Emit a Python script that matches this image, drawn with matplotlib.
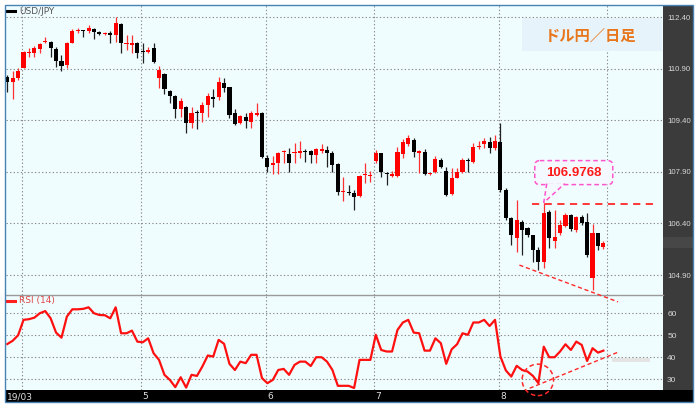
import matplotlib
matplotlib.use("Agg")
import matplotlib.pyplot as plt
import numpy as np
from matplotlib.patches import Rectangle, Ellipse, Polygon, FancyBboxPatch
from matplotlib.lines import Line2D
from matplotlib.transforms import Affine2D, blended_transform_factory

# USD/JPY daily candles
opens = [110.66, 110.51, 110.63, 110.92, 111.35, 111.35, 111.47, 111.67, 111.67, 111.47,
         111.12, 111.00, 111.64, 112.00, 112.02, 112.00, 112.05, 111.96, 111.91, 111.93,
         111.88, 112.20, 111.61, 111.59, 111.64, 111.41, 111.38, 111.50, 110.63, 110.74,
         110.25, 110.10, 109.73, 109.78, 109.32, 109.64, 109.61, 109.84, 110.07, 110.07,
         110.48, 110.36, 109.61, 109.32, 109.49, 109.35, 109.55, 109.61, 108.30, 108.10,
         108.16, 108.48, 108.42, 108.45, 108.45, 108.50, 108.50, 108.39, 108.50, 108.53,
         108.45, 108.13, 107.31, 107.31, 107.28, 107.20, 107.81, 107.78, 108.21, 108.45,
         107.86, 107.78, 107.78, 108.42, 108.71, 108.82, 108.45, 108.48, 107.83, 107.89,
         108.24, 107.92, 107.26, 107.72, 107.89, 108.24, 108.19, 108.62, 108.71, 108.77,
         108.59, 108.77, 107.37, 106.56, 105.98, 106.44, 106.27, 106.06, 105.63, 105.28,
         106.73, 105.89, 106.12, 106.32, 106.64, 106.21, 106.59, 106.44, 104.81, 106.12,
         105.71]
highs = [110.71, 110.83, 110.92, 111.41, 111.50, 111.56, 111.64, 111.82, 111.70, 111.53,
         111.30, 111.67, 112.05, 112.08, 112.02, 112.17, 112.08, 112.00, 111.96, 112.00,
         112.40, 112.23, 111.88, 111.88, 111.67, 111.64, 111.53, 111.64, 110.98, 110.77,
         110.28, 110.13, 110.04, 109.81, 109.78, 109.70, 109.93, 110.19, 110.31, 110.66,
         110.63, 110.36, 109.73, 109.55, 109.61, 109.67, 109.90, 109.64, 108.39, 108.36,
         108.48, 108.53, 108.59, 108.74, 108.79, 108.56, 108.53, 108.59, 108.71, 108.65,
         108.50, 108.16, 107.75, 107.52, 107.37, 107.81, 108.16, 107.92, 108.53, 108.45,
         107.89, 107.92, 108.62, 108.85, 108.97, 108.88, 108.53, 108.56, 107.86, 108.36,
         108.30, 108.04, 108.01, 108.01, 108.30, 108.30, 108.74, 108.79, 108.88, 108.91,
         108.97, 109.32, 107.43, 106.59, 107.08, 106.50, 106.30, 106.06, 105.71, 106.98,
         106.79, 106.79, 106.50, 106.70, 106.67, 106.62, 106.64, 106.70, 106.38, 106.12,
         105.89]
lows = [110.22, 110.02, 110.57, 110.92, 111.24, 111.24, 111.35, 111.64, 111.24, 110.95,
        110.83, 110.92, 111.64, 111.93, 111.82, 111.93, 111.76, 111.88, 111.88, 111.64,
        111.67, 111.35, 111.44, 111.35, 111.21, 111.06, 111.35, 111.06, 110.34, 110.16,
        109.90, 109.46, 109.49, 109.03, 109.17, 109.14, 109.35, 109.49, 109.78, 109.99,
        110.22, 109.46, 109.26, 109.29, 109.17, 109.17, 109.52, 108.30, 107.89, 107.83,
        107.83, 108.16, 107.89, 108.16, 108.30, 108.19, 108.16, 108.16, 108.45, 108.04,
        107.89, 107.23, 107.05, 107.23, 106.79, 107.17, 107.57, 107.60, 108.16, 107.75,
        107.52, 107.75, 107.75, 108.30, 108.65, 108.33, 107.86, 107.81, 107.81, 107.86,
        108.01, 107.20, 107.23, 107.72, 107.86, 107.89, 108.16, 108.56, 108.59, 108.45,
        108.53, 107.31, 106.50, 105.77, 105.57, 105.48, 106.00, 105.28, 105.04, 105.10,
        105.68, 105.68, 106.06, 106.30, 106.18, 106.15, 106.35, 105.42, 104.46, 105.63,
        105.66]
closes = [110.51, 110.63, 110.83, 111.38, 111.38, 111.50, 111.61, 111.70, 111.50, 111.12,
          110.98, 111.64, 112.00, 112.02, 112.00, 112.08, 111.96, 111.91, 111.93, 111.88,
          112.23, 111.64, 111.64, 111.64, 111.35, 111.38, 111.44, 111.09, 110.86, 110.31,
          110.10, 109.73, 109.96, 109.32, 109.61, 109.61, 109.84, 110.10, 110.02, 110.51,
          110.34, 109.55, 109.29, 109.52, 109.38, 109.61, 109.61, 108.33, 108.04, 108.16,
          108.45, 108.50, 108.16, 108.48, 108.50, 108.48, 108.39, 108.56, 108.56, 108.45,
          108.10, 107.31, 107.34, 107.28, 107.17, 107.78, 107.83, 107.81, 108.45, 107.89,
          107.83, 107.83, 108.48, 108.77, 108.88, 108.48, 108.50, 107.83, 107.86, 108.27,
          108.04, 107.23, 107.72, 107.89, 108.24, 108.21, 108.62, 108.65, 108.79, 108.59,
          108.79, 107.37, 106.56, 106.06, 106.50, 106.21, 106.06, 105.63, 105.28, 106.70,
          105.98, 106.00, 106.35, 106.64, 106.24, 106.59, 106.41, 105.48, 106.12, 105.74,
          105.83]
rsi = [46, 47.5, 50, 57, 57.3, 58, 60, 61, 57.7, 51.2,
       48.9, 58.5, 61.8, 61.8, 62, 62.7, 60, 59.2, 59.1, 57.7,
       62.7, 50.9, 50.9, 52.1, 47.1, 46.8, 48.6, 41.8, 38.8, 32,
       29.7, 26.4, 30.9, 26.2, 32, 31.5, 35.8, 40.8, 40.3, 47.9,
       46.1, 37, 34.2, 38, 37.3, 41.1, 41.1, 30.5, 28.2, 29.7,
       34.2, 34.7, 32, 36.5, 38, 38, 36, 40, 40, 38,
       34.2, 27, 27, 27, 26, 38.8, 38.8, 38.8, 50.2, 43.3,
       42.6, 42.6, 52.4, 55.8, 57, 51.2, 50.9, 43, 43, 48.6,
       46.4, 37, 43.6, 45.9, 50.9, 50.2, 55.8, 55.8, 57, 54.2,
       57, 40.3, 34, 31.2, 36.1, 34.2, 33.5, 31.5, 28.2, 44.8,
       40, 40, 42.6, 45.9, 43.3, 47.1, 45.6, 38.3, 44.1, 42.1, 43]

price_ticks = [112.40, 110.90, 109.40, 107.90, 106.40, 104.90]
rsi_ticks = [60, 50, 40, 30]
month_starts = [3, 25, 48, 68, 91, 111]        # candle index where a month begins
time_labels = ["19/03", "5", "6", "7", "8"]
time_label_at = [0, 25, 48, 68, 91]

# hand-drawn annotations
peak_idx, peak_price = 99, 106.9768
resist_x = [96.75, 119.1]
price_trend_x, price_trend_y = [94.5, 112.7], [105.19, 104.12]
rsi_trend_x, rsi_trend_y = [96.4, 112.9], [25.9, 42.5]
rsi_circle = (97.9, 29.7)

W, H = 700, 408
fig = plt.figure(figsize=(W / 100, H / 100), dpi=100)
fig.patch.set_facecolor("white")
px = Affine2D().scale(1, -1).translate(0, H)   # pixel coords, origin top-left


def frac(x0, y0, x1, y1):
    return [x0 / W, 1 - y1 / H, (x1 - x0) / W, (y1 - y0) / H]


ax = fig.add_axes(frac(5.5, 5, 663, 295))
axr = fig.add_axes(frac(5.5, 295, 663, 390))
ax.set_zorder(2)
axr.set_zorder(1)

bg = "#F0FDFF"
grid_kw = dict(color="#8a8a8a", lw=0.8, ls=(0, (1.2, 2.0)), zorder=1)
for a in (ax, axr):
    a.set_facecolor(bg)
    a.set_xlim(-0.33, 121.0)
    a.set_xticks([])
    for s in a.spines.values():
        s.set_visible(False)
    for m in month_starts:
        a.axvline(m - 0.3, **grid_kw)
    a.yaxis.tick_right()
    a.tick_params(axis="y", length=0, pad=3, labelsize=5.6, labelcolor="#D6D6D6")

ax.set_ylim(104.32, 112.75)
axr.set_ylim(25.1, 68.3)
ax.spines["bottom"].set_visible(True)
ax.spines["bottom"].set_color("#9a9a9a")
ax.spines["bottom"].set_linewidth(1.0)

for p in price_ticks:
    ax.axhline(p, **grid_kw)
ax.set_yticks(price_ticks)
ax.set_yticklabels([f"{p:.2f}" for p in price_ticks], family="Liberation Sans")
for r in rsi_ticks:
    axr.axhline(r, **grid_kw)
axr.set_yticks(rsi_ticks)
axr.set_yticklabels([str(r) for r in rsi_ticks], family="Liberation Sans", fontsize=6)

# candles
o, h, l, c = map(np.array, (opens, highs, lows, closes))
x = np.arange(len(o))
up = c >= o
lo = np.minimum(o, c)
bh = np.maximum(np.abs(c - o), 0.03)
ax.vlines(x[up], l[up], h[up], color="#FF3030", lw=0.9, zorder=3)
ax.vlines(x[~up], l[~up], h[~up], color="#202020", lw=0.9, zorder=3)
ax.bar(x[up], bh[up], bottom=lo[up], width=0.76, color="#FF0000", lw=0, zorder=4)
ax.bar(x[~up], bh[~up], bottom=lo[~up], width=0.76, color="#000000", lw=0, zorder=4)

# RSI line
axr.plot(x, rsi, color="#FF1010", lw=1.6, zorder=4, solid_joinstyle="round")

# annotations
red = "#FF2828"
ax.plot(resist_x, [peak_price, peak_price], color=red, lw=1.3, ls=(0, (4, 3)), zorder=5)
ax.plot(price_trend_x, price_trend_y, color=red, lw=1.0, ls=(0, (3, 2)), clip_on=False, zorder=5)
axr.plot(rsi_trend_x, rsi_trend_y, color=red, lw=1.0, ls=(0, (3, 2)), zorder=5)
axr.add_patch(Ellipse(rsi_circle, 5.8, 14.3, fill=False, ec=red, lw=1.1,
                      ls=(0, (3, 2)), clip_on=False, zorder=5))

# frame pieces
fig.add_artist(Rectangle((663, 5), 30, 397, transform=px, fc="#3B3B3B", ec="none", zorder=-1))
fig.add_artist(Rectangle((663, 237), 30, 11, transform=px, fc="#474747", ec="none", zorder=-0.5))
fig.add_artist(Rectangle((5, 390), 688, 12, transform=px, fc="black", ec="none", zorder=-1))
fig.add_artist(Rectangle((612, 358), 38, 4, transform=px, fc="#E4E4E4", ec="none", zorder=1.5))
fig.add_artist(Rectangle((5, 5), 688, 397, transform=px, fill=False, ec="#4682B4", lw=1.0, zorder=10))

# time axis labels
tl = blended_transform_factory(axr.transData, px)
for lab, i in zip(time_labels, time_label_at):
    axr.text(i - 0.05, 396.5, lab, transform=tl, fontsize=6.5, color="#E0E0E0",
             ha="left", va="center", clip_on=False)

# panel captions
fig.add_artist(Line2D([7, 15], [11, 11], transform=px, color="black", lw=2.2, zorder=5))
fig.text(19, 11, "USD/JPY", transform=px, fontsize=6.5, color="#555555", va="center", zorder=5)
fig.add_artist(Line2D([7, 15], [301, 301], transform=px, color="#FF2020", lw=2.2, zorder=5))
fig.text(19, 301, "RSI (14)", transform=px, fontsize=6.5, color="#E04848", va="center", zorder=5)

# title box
fig.add_artist(Rectangle((522, 18), 140, 33, transform=px, fc="#E6F3FB", ec="none", zorder=5))
fig.text(591, 35.5, "ドル円／日足", transform=px, fontsize=11, weight="bold", color="#E8761C",
         family=["Noto Sans CJK JP", "DejaVu Sans"], ha="center", va="center", zorder=6)

# callout on the swing high
tx, ty = ax.transData.transform((peak_idx, peak_price))
ty = H - ty
left, top = tx - 9, ty - 43
fig.add_artist(FancyBboxPatch((left, top), 78, 24, boxstyle="round,pad=0,rounding_size=5",
                              transform=px, fc="#F4F9FF", ec="#FF55CC", lw=1.1,
                              ls=(0, (3, 2)), zorder=6))
fig.add_artist(Polygon([(tx + 3, ty - 20), (tx, ty - 1), (tx + 21, ty - 20)], closed=False,
                       transform=px, fc="#F4F9FF", ec="#FF55CC", lw=1.1, ls=(0, (3, 2)), zorder=7))
fig.text(left + 39, top + 12, "106.9768", transform=px, fontsize=9.5, weight="bold",
         color="#FF1A1A", family="Liberation Sans", ha="center", va="center", zorder=8)

fig.savefig("out.png", dpi=100)
